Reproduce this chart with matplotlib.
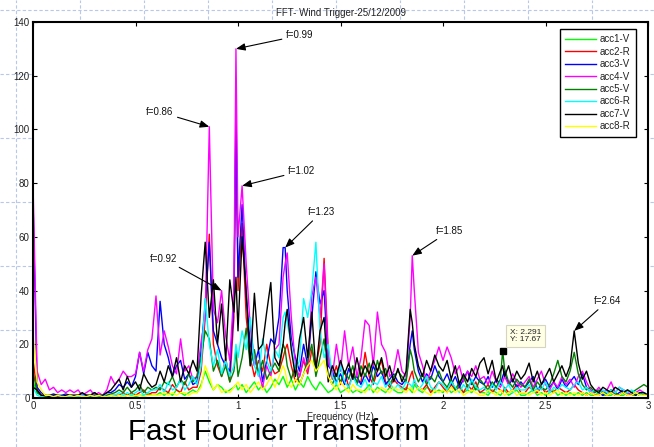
import numpy as np
import matplotlib
matplotlib.use("Agg")
import matplotlib.pyplot as plt
from matplotlib.lines import Line2D

plt.rcParams['font.family'] = ['Liberation Sans', 'DejaVu Sans']

# ---------------------------------------------------------------- data
BASE_STEP = 0.02
PEAK_FREQS = [0.99, 1.23, 1.85, 2.291]
freq = np.sort(np.concatenate([np.round(np.arange(151) * BASE_STEP, 3), PEAK_FREQS]))

acc1_v = [
    6, 2, 1, 0.5, 1, 0.5, 0.5, 1, 0.5, 0.5,
    0.5, 1, 0.5, 0.5, 1, 0.5, 0.5, 1, 0.5, 1,
    0.5, 1, 0.5, 1, 1, 0.5, 1, 1, 2, 1,
    1, 2, 1, 2, 1, 3, 2, 1, 2, 3,
    2, 5, 10, 6, 3, 5, 4, 2, 3, 4, 5,
    3, 5, 2, 4, 6, 3, 5, 2, 4, 7,
    5, 8, 6, 4, 7, 3, 6, 4, 8, 5, 3,
    6, 4, 2, 3, 5, 2, 3, 4, 2, 3,
    2, 3, 5, 2, 4, 3, 2, 4, 3, 2,
    2, 4, 3, 2, 5, 3, 2, 4, 3, 2, 3,
    2, 4, 2, 3, 5, 2, 3, 2, 4, 2,
    2, 1, 3, 2, 1, 2, 3, 1, 2, 3, 1,
    1, 2, 3, 1, 2, 1, 2, 3, 1, 2,
    1, 2, 1, 2, 1, 2, 1, 1, 2, 1,
    1, 1, 2, 1, 1, 2, 1, 1, 2, 1, 1,
]
acc2_r = [
    14, 3, 1, 1, 0.5, 1, 0.5, 0.5, 1, 0.5,
    0.5, 1, 0.5, 1, 0.5, 1, 1, 0.5, 1, 1,
    1, 1, 2, 1, 2, 1, 2, 3, 1, 2,
    2, 4, 3, 2, 5, 3, 2, 6, 3, 4,
    4, 10, 30, 61, 20, 12, 8, 15, 6, 30, 113,
    40, 65, 30, 15, 8, 14, 10, 20, 12, 9,
    10, 15, 18, 20, 12, 6, 8, 14, 9, 18, 12,
    20, 52, 18, 7, 12, 5, 10, 4, 9, 6,
    6, 17, 8, 5, 10, 14, 6, 4, 7, 5,
    4, 3, 8, 10, 6, 4, 3, 5, 2, 4, 6,
    4, 2, 5, 3, 4, 2, 5, 3, 6, 2,
    3, 5, 2, 4, 3, 2, 4, 2, 3, 5, 2,
    2, 4, 3, 2, 4, 2, 3, 2, 4, 3,
    2, 3, 5, 3, 2, 1, 2, 1, 1, 2,
    1, 2, 1, 1, 2, 1, 1, 2, 1, 1, 1,
]
acc3_v = [
    74, 4, 2, 1, 1, 1.5, 1, 1, 1.5, 1,
    1, 1, 1.5, 1, 1, 2, 1, 1, 2, 2,
    3, 5, 4, 6, 4, 8, 17, 9, 17, 12,
    10, 36, 20, 15, 8, 12, 14, 7, 9, 5,
    6, 18, 35, 58, 25, 20, 15, 12, 10, 35, 102,
    45, 72, 38, 20, 12, 18, 6, 14, 22, 20,
    30, 56, 56, 40, 22, 15, 10, 20, 12, 30, 47,
    35, 40, 12, 10, 6, 9, 5, 11, 7, 8,
    5, 9, 6, 12, 8, 10, 5, 7, 9, 6,
    5, 7, 20, 25, 18, 10, 6, 9, 7, 12, 8,
    6, 9, 5, 8, 4, 7, 10, 5, 8, 6,
    5, 8, 4, 7, 5, 8, 10, 5, 7, 4, 6,
    4, 6, 8, 3, 5, 7, 4, 6, 3, 7,
    4, 6, 8, 5, 9, 4, 2, 3, 2, 1,
    2, 3, 1, 2, 3, 2, 1, 2, 1, 2, 1,
]
acc4_v = [
    80, 10, 5, 7, 3, 4, 2, 3, 2, 3,
    2, 3, 1, 2, 3, 1, 2, 1, 3, 8,
    5, 7, 10, 8, 8, 9, 17, 10, 18, 22,
    38, 16, 25, 19, 12, 9, 22, 10, 12, 7,
    8, 21, 30, 101, 33, 28, 40, 23, 14, 40, 130,
    60, 79, 50, 26, 15, 10, 4, 12, 8, 18,
    20, 45, 50, 54, 30, 12, 8, 15, 10, 38, 45,
    30, 50, 15, 8, 20, 10, 25, 12, 19, 8,
    15, 29, 27, 12, 32, 20, 17, 8, 10, 18,
    10, 8, 30, 53, 40, 17, 12, 6, 10, 14, 19,
    14, 19, 15, 9, 12, 6, 10, 8, 12, 7,
    8, 5, 10, 6, 4, 6, 8, 5, 9, 6, 4,
    6, 8, 4, 7, 10, 5, 3, 6, 4, 8,
    5, 7, 4, 8, 10, 6, 3, 2, 4, 2,
    3, 6, 2, 4, 3, 2, 1, 2, 3, 2, 1,
]
acc5_v = [
    10, 2, 1, 0.5, 1, 0.5, 1, 0.5, 0.5, 1,
    0.5, 1, 0.5, 1, 0.5, 1, 1, 0.5, 1, 1.5,
    2, 3, 2, 4, 2, 3, 5, 2, 4, 3,
    4, 3, 6, 5, 8, 4, 7, 5, 9, 6,
    8, 15, 25, 22, 10, 14, 8, 12, 6, 10, 18,
    8, 15, 26, 12, 18, 9, 14, 7, 10, 13,
    10, 20, 18, 12, 7, 12, 5, 9, 14, 20, 8,
    15, 22, 8, 5, 9, 6, 10, 7, 12, 5,
    12, 8, 13, 6, 14, 9, 11, 5, 8, 10,
    8, 6, 18, 15, 10, 6, 9, 5, 8, 6, 10,
    6, 4, 7, 3, 6, 8, 4, 6, 3, 7,
    5, 3, 6, 4, 7, 17.67, 11, 6, 4, 7, 5,
    4, 7, 3, 6, 4, 3, 5, 9, 14, 8,
    6, 10, 17, 9, 5, 3, 4, 2, 3, 2,
    2, 3, 2, 1, 2, 3, 2, 3, 4, 5, 4,
]
acc6_r = [
    4, 1, 0.5, 1, 0.5, 0.5, 1, 0.5, 1, 0.5,
    1, 0.5, 1, 0.5, 1, 0.5, 1, 1, 0.5, 1,
    1, 2, 1, 2, 1, 2, 3, 1, 2, 3,
    3, 5, 2, 6, 3, 4, 7, 3, 5, 8,
    5, 12, 37, 20, 12, 18, 9, 14, 8, 12, 20,
    15, 25, 18, 30, 12, 8, 22, 14, 10, 18,
    15, 30, 32, 28, 20, 10, 14, 37, 30, 40, 58,
    25, 15, 20, 8, 5, 12, 6, 4, 8, 5,
    4, 7, 3, 6, 5, 8, 4, 6, 3, 5,
    3, 6, 5, 4, 7, 3, 5, 8, 4, 3, 6,
    5, 3, 6, 4, 2, 5, 3, 7, 4, 3,
    4, 2, 5, 3, 6, 5, 3, 5, 2, 4, 3,
    3, 5, 2, 4, 3, 6, 2, 4, 3, 5,
    4, 3, 5, 6, 3, 4, 2, 3, 2, 3,
    2, 3, 2, 4, 3, 2, 3, 2, 1, 2, 1,
]
acc7_v = [
    4, 3, 1, 1, 0.5, 1, 1, 0.5, 1, 1,
    1, 1, 2, 1, 1, 2, 1, 1, 2, 3,
    5, 7, 3, 8, 4, 6, 3, 9, 6, 4,
    5, 10, 6, 12, 8, 15, 6, 12, 9, 14,
    10, 38, 58, 30, 44, 20, 35, 14, 44, 32, 45,
    25, 60, 40, 12, 39, 18, 20, 32, 43, 15,
    12, 20, 28, 33, 18, 8, 22, 30, 15, 32, 10,
    25, 30, 6, 12, 8, 14, 9, 13, 7, 15,
    8, 12, 9, 14, 10, 15, 8, 12, 6, 11,
    6, 10, 33, 28, 20, 12, 8, 14, 10, 16, 12,
    10, 14, 7, 12, 5, 9, 6, 11, 8, 13,
    15, 9, 14, 6, 10, 12, 8, 12, 6, 10, 7,
    9, 13, 6, 10, 5, 8, 11, 6, 9, 12,
    8, 12, 25, 13, 7, 10, 5, 3, 2, 4,
    3, 2, 4, 3, 2, 3, 2, 1, 2, 2, 1,
]
acc8_r = [
    25, 6, 3, 1, 1, 0.5, 1, 0.5, 0.5, 1,
    0.5, 1, 0.5, 0.5, 1, 0.5, 1, 0.5, 0.5, 1,
    0.5, 1, 0.5, 1, 0.5, 1, 1, 0.5, 1, 1,
    1, 1, 2, 1, 2, 1, 2, 2, 1, 2,
    2, 4, 12, 8, 3, 5, 2, 3, 2, 4, 5,
    6, 3, 5, 2, 4, 6, 3, 5, 8, 4,
    8, 12, 10, 6, 4, 7, 5, 9, 12, 14, 10,
    12, 14, 8, 5, 3, 6, 4, 2, 5, 3,
    3, 2, 4, 3, 2, 4, 3, 2, 4, 3,
    3, 2, 4, 3, 2, 4, 3, 2, 1, 3, 2,
    3, 2, 4, 2, 3, 1, 2, 3, 2, 1,
    1, 3, 2, 1, 3, 2, 1, 2, 3, 1, 2,
    2, 1, 2, 3, 1, 2, 1, 2, 3, 1,
    2, 1, 2, 1, 2, 1, 2, 1, 1, 2,
    1, 2, 1, 1, 2, 1, 1, 2, 1, 1, 1,
]

series_names = ["acc1-V", "acc2-R", "acc3-V", "acc4-V",
                "acc5-V", "acc6-R", "acc7-V", "acc8-R"]
series_values = [acc1_v, acc2_r, acc3_v, acc4_v, acc5_v, acc6_r, acc7_v, acc8_r]
series_colors = ["#00ff00", "#ff0000", "#0000ff", "#ff00ff",
                 "#008000", "#00ffff", "#000000", "#ffff00"]

xticks = [0, 0.5, 1, 1.5, 2, 2.5, 3]
xtick_labels = ["0", "0.5", "1", "1.5", "2", "2.5", "3"]
yticks = [0, 20, 40, 60, 80, 100, 120, 140]

# peak labels: text, frequency, series the arrow points at, text anchor, alignment
peak_labels = [
    ("f=0.99", 0.99, "acc4-V", (1.234, 135.0), "left"),
    ("f=0.86", 0.86, "acc4-V", (0.685, 106.5), "right"),
    ("f=1.02", 1.02, "acc4-V", (1.244, 84.5), "left"),
    ("f=1.23", 1.23, "acc3-V", (1.341, 69.2), "left"),
    ("f=1.85", 1.85, "acc4-V", (1.966, 62.2), "left"),
    ("f=0.92", 0.92, "acc4-V", (0.705, 51.8), "right"),
    ("f=2.64", 2.64, "acc7-V", (2.737, 36.1), "left"),
]
datatip_x, datatip_y = 2.291, 17.67

# ---------------------------------------------------------------- figure
W, H = 654, 447
fig = plt.figure(figsize=(W / 100, H / 100), dpi=100)
fig.patch.set_facecolor("white")

# dashed slide grid behind the plot
GRID_STEP = 64
for gx in np.arange(16, W + 1, GRID_STEP):
    fig.add_artist(Line2D([gx / W, gx / W], [0, 1], transform=fig.transFigure,
                          color="#b8c8ea", lw=0.8, ls=(0, (3, 2)), zorder=-5))
for gy in np.arange(10, H + 1, GRID_STEP):
    fig.add_artist(Line2D([0, 1], [1 - gy / H, 1 - gy / H], transform=fig.transFigure,
                          color="#b8c8ea", lw=0.8, ls=(0, (3, 2)), zorder=-5))

ax = fig.add_axes([33 / W, (H - 398) / H, 615 / W, 376 / H])
ax.set_facecolor("white")

for name, vals, col in zip(series_names, series_values, series_colors):
    ax.plot(freq, vals, color=col, lw=1.0, label=name)

ax.set_xlim(0, 3)
ax.set_ylim(0, 140)
ax.set_xticks(xticks)
ax.set_xticklabels(xtick_labels)
ax.set_yticks(yticks)
ax.tick_params(direction="in", length=3, width=0.8, top=True, right=True,
               labelsize=7, pad=2.5, labelcolor="#222222")
for sp in ax.spines.values():
    sp.set_linewidth(1.5)

ax.set_title("FFT- Wind Trigger-25/12/2009", fontsize=7, pad=4, color="#222222")
ax.set_xlabel("Frequency (Hz)", fontsize=7, labelpad=0.5, color="#222222")

leg = ax.legend(loc="upper right", bbox_to_anchor=(0.9805, 0.9814), borderaxespad=0,
                fontsize=7, frameon=True, fancybox=False, edgecolor="black",
                framealpha=1, handlelength=3.2, handletextpad=0.35,
                labelspacing=0.25, borderpad=0.55)
leg.get_frame().set_linewidth(1.0)
for txt in leg.get_texts():
    txt.set_color("#222222")

lookup = dict(zip(series_names, series_values))
for text, f, name, txy, ha in peak_labels:
    idx = int(np.argmin(np.abs(freq - f)))
    ax.annotate(text, xy=(f, lookup[name][idx]), xytext=txy, ha=ha, va="center",
                fontsize=7, color="#111111",
                arrowprops=dict(arrowstyle="-|>,head_length=0.55,head_width=0.22",
                                color="black", lw=0.8, mutation_scale=10,
                                shrinkA=1, shrinkB=0))

ax.plot([datatip_x], [datatip_y], marker="s", ms=4.5, mfc="black", mec="black", zorder=5)
ax.annotate(f"X: {datatip_x}\nY: {datatip_y}", xy=(datatip_x, datatip_y),
            xytext=(5.3, 5.3), textcoords="offset points", ha="left", va="bottom",
            fontsize=6, linespacing=1.1, color="#222222", zorder=6,
            bbox=dict(boxstyle="square,pad=0.48", fc="#ffffe6", ec="#d4d4c0", lw=0.8))

fig.text(128 / W, (H - 440) / H, "Fast Fourier Transform", fontsize=21.3,
         va="baseline", ha="left", color="black")

fig.savefig("out.png", dpi=100)
